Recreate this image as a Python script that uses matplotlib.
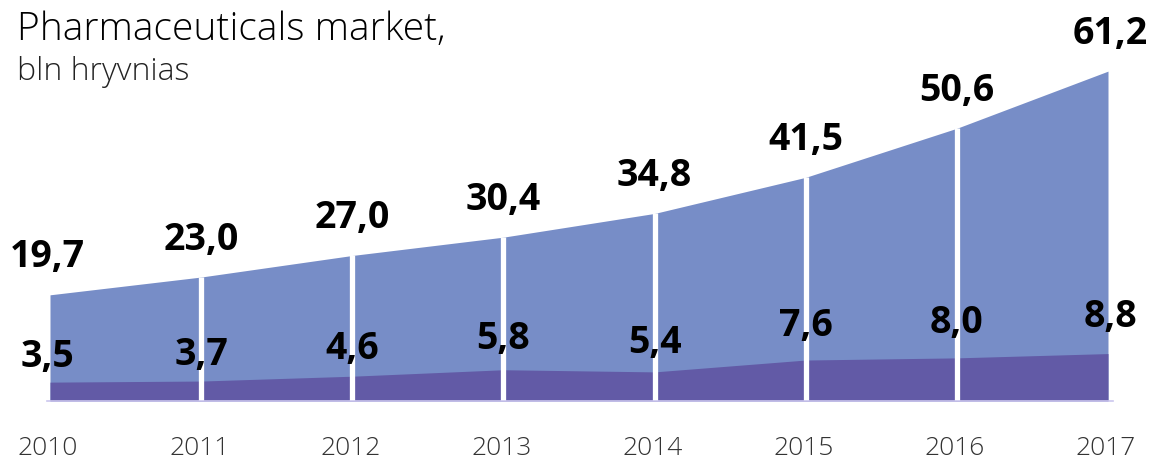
import matplotlib
matplotlib.use("Agg")
import matplotlib.pyplot as plt

years = [2010, 2011, 2012, 2013, 2014, 2015, 2016, 2017]
total_market = [19.7, 23.0, 27.0, 30.4, 34.8, 41.5, 50.6, 61.2]
sub_segment = [3.5, 3.7, 4.6, 5.8, 5.4, 7.6, 8.0, 8.8]
total_labels = ["19,7", "23,0", "27,0", "30,4", "34,8", "41,5", "50,6", "61,2"]
sub_labels = ["3,5", "3,7", "4,6", "5,8", "5,4", "7,6", "8,0", "8,8"]

LIGHT = "#778dc7"
DARK = "#625aa6"
FONT = "Open Sans"
PT = 72 / 100  # points per pixel at 100 dpi

W, H = 1153, 461
fig = plt.figure(figsize=(W / 100, H / 100), dpi=100)

# axes placed so that x spans 2010..2017 and y=0 sits on the baseline
x0_px, x1_px = 50, 1108
base_px = 401
px_per_unit = 5.39
ymax = 70
ax = fig.add_axes([x0_px / W, (H - base_px) / H, (x1_px - x0_px) / W,
                   ymax * px_per_unit / H])
ax.set_xlim(years[0], years[-1])
ax.set_ylim(0, ymax)
ax.axis("off")

ax.fill_between(years, 0, total_market, color=LIGHT, linewidth=0, zorder=1)
ax.fill_between(years, 0, sub_segment, color=DARK, linewidth=0, zorder=2)

# white separators at the inner years, up to the total curve
for x, v in zip(years[1:-1], total_market[1:-1]):
    ax.plot([x, x], [0, v], color="white", linewidth=3.8,
            solid_capstyle="butt", zorder=3)

# faint baseline
ax.plot([2010 - 0.02, 2017 + 0.03], [0, 0], color="#cbc6ee", linewidth=1.2,
        clip_on=False, zorder=4)

label_dx = [-3, 0, 0, 0, 0, 0, 0, 2]
for x, v, t, dx in zip(years, total_market, total_labels, label_dx):
    ax.annotate(t, xy=(x, v), xytext=(dx * PT, 42 * PT),
                textcoords="offset points", ha="center", va="center_baseline",
                fontsize=27, fontweight="bold", family=FONT, color="black",
                annotation_clip=False)

for x, v, t, dx in zip(years, sub_segment, sub_labels, label_dx):
    ax.annotate(t, xy=(x, v), xytext=(dx * PT, (22 + 2.2 * v) * PT),
                textcoords="offset points", ha="center", va="center_baseline",
                fontsize=27, fontweight="bold", family=FONT, color="black",
                annotation_clip=False)

for x in years:
    ax.annotate(str(x), xy=(x, 0), xytext=(-2 * PT, -54 * PT),
                textcoords="offset points", ha="center", va="baseline",
                fontsize=19, fontweight="light", family=FONT, color="#333333",
                annotation_clip=False)

fig.text(17 / W, 1 - 40 / H, "Pharmaceuticals market,", fontsize=28,
         fontweight="light", family=FONT, color="black", va="baseline", ha="left")
fig.text(17 / W, 1 - 80 / H, "bln hryvnias", fontsize=23,
         fontweight="light", family=FONT, color="#222222", va="baseline", ha="left")

fig.savefig("out.png", dpi=100, facecolor="white")
